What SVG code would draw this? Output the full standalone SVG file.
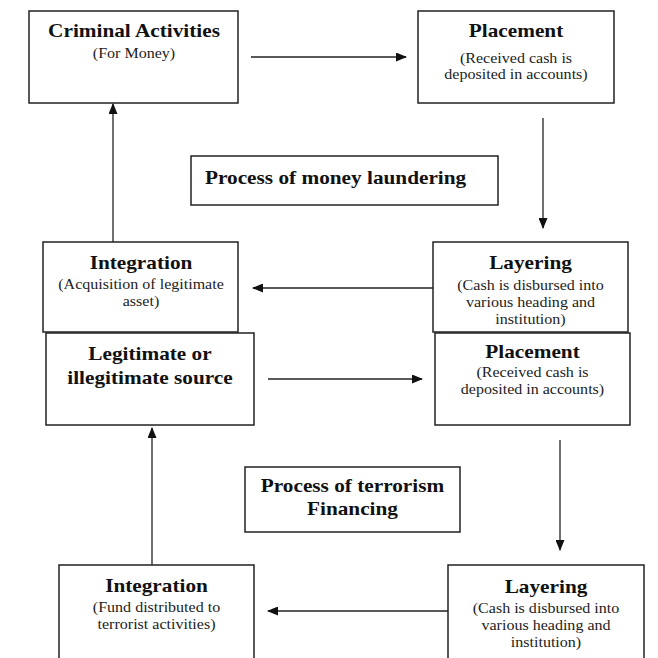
<svg xmlns="http://www.w3.org/2000/svg" width="658" height="658" viewBox="0 0 658 658">
<defs>
<style>
.box{fill:#fff;stroke:#222;stroke-width:1.5}
.t{font-family:"Liberation Serif","Times New Roman",serif;font-weight:bold;font-size:18.5px;text-anchor:middle;fill:#111}
.ts{font-family:"Liberation Serif","Times New Roman",serif;font-weight:bold;font-size:18.5px;text-anchor:start;fill:#111}
.s{font-family:"Liberation Serif","Times New Roman",serif;font-size:15px;text-anchor:middle;fill:#222;transform:scale(0.93,1)}
.c{stroke:#222;stroke-width:1.3;fill:none;marker-end:url(#ah)}
</style>
<marker id="ah" markerUnits="userSpaceOnUse" markerWidth="11" markerHeight="9" refX="10" refY="4.5" orient="auto">
<path d="M0,0 L11,4.5 L0,9 z" fill="#111"/>
</marker>
</defs>
<rect width="658" height="658" fill="#fff"/>
<g id="connectors">
<line class="c" x1="251" y1="57" x2="406" y2="57"/>
<line class="c" x1="543" y1="118" x2="543" y2="228"/>
<line class="c" x1="433" y1="288" x2="253" y2="288"/>
<line class="c" x1="113" y1="242" x2="113" y2="104"/>
<line class="c" x1="268" y1="379" x2="422" y2="379"/>
<line class="c" x1="560" y1="440" x2="560" y2="550"/>
<line class="c" x1="448" y1="611" x2="268" y2="611"/>
<line class="c" x1="152" y1="565" x2="152" y2="428"/>
</g>
<g id="criminal">
<rect class="box" x="29" y="11" width="209" height="92"/>
<g transform="translate(134,0) scale(1.15,1)"><text class="t" x="0" y="37">Criminal Activities</text><text class="s" x="0" y="58">(For Money)</text></g>
</g>
<g id="placement1">
<rect class="box" x="418" y="11" width="196" height="92"/>
<g transform="translate(516,0) scale(1.15,1)"><text class="t" x="0" y="37">Placement</text><text class="s" x="0" y="63">(Received cash is</text><text class="s" x="0" y="79">deposited in accounts)</text></g>
</g>
<g id="money-process">
<rect class="box" x="191" y="156" width="307" height="49"/>
<g transform="translate(205,0) scale(1.15,1)"><text class="ts" x="0" y="184">Process of money laundering</text></g>
</g>
<g id="integration1">
<rect class="box" x="43" y="242" width="195" height="90"/>
<g transform="translate(141,0) scale(1.15,1)"><text class="t" x="0" y="269">Integration</text><text class="s" x="0" y="289">(Acquisition of legitimate</text><text class="s" x="0" y="306">asset)</text></g>
</g>
<g id="layering1">
<rect class="box" x="433" y="242" width="195" height="90"/>
<g transform="translate(530.5,0) scale(1.15,1)"><text class="t" x="0" y="269">Layering</text><text class="s" x="0" y="290">(Cash is disbursed into</text><text class="s" x="0" y="307">various heading and</text><text class="s" x="0" y="324">institution)</text></g>
</g>
<g id="source">
<rect class="box" x="46" y="333" width="208" height="92"/>
<g transform="translate(150,0) scale(1.15,1)"><text class="t" x="0" y="360">Legitimate or</text><text class="t" x="0" y="384">illegitimate source</text></g>
</g>
<g id="placement2">
<rect class="box" x="435" y="333" width="195" height="92"/>
<g transform="translate(532.5,0) scale(1.15,1)"><text class="t" x="0" y="358">Placement</text><text class="s" x="0" y="377">(Received cash is</text><text class="s" x="0" y="394">deposited in accounts)</text></g>
</g>
<g id="terror-process">
<rect class="box" x="245" y="467" width="215" height="65"/>
<g transform="translate(352.5,0) scale(1.15,1)"><text class="t" x="0" y="492">Process of terrorism</text><text class="t" x="0" y="515">Financing</text></g>
</g>
<g id="integration2">
<rect class="box" x="59" y="565" width="195" height="100"/>
<g transform="translate(156.5,0) scale(1.15,1)"><text class="t" x="0" y="592">Integration</text><text class="s" x="0" y="612">(Fund distributed to</text><text class="s" x="0" y="629">terrorist activities)</text></g>
</g>
<g id="layering2">
<rect class="box" x="448" y="565" width="196" height="100"/>
<g transform="translate(546,0) scale(1.15,1)"><text class="t" x="0" y="593">Layering</text><text class="s" x="0" y="613">(Cash is disbursed into</text><text class="s" x="0" y="630">various heading and</text><text class="s" x="0" y="647">institution)</text></g>
</g>
</svg>
